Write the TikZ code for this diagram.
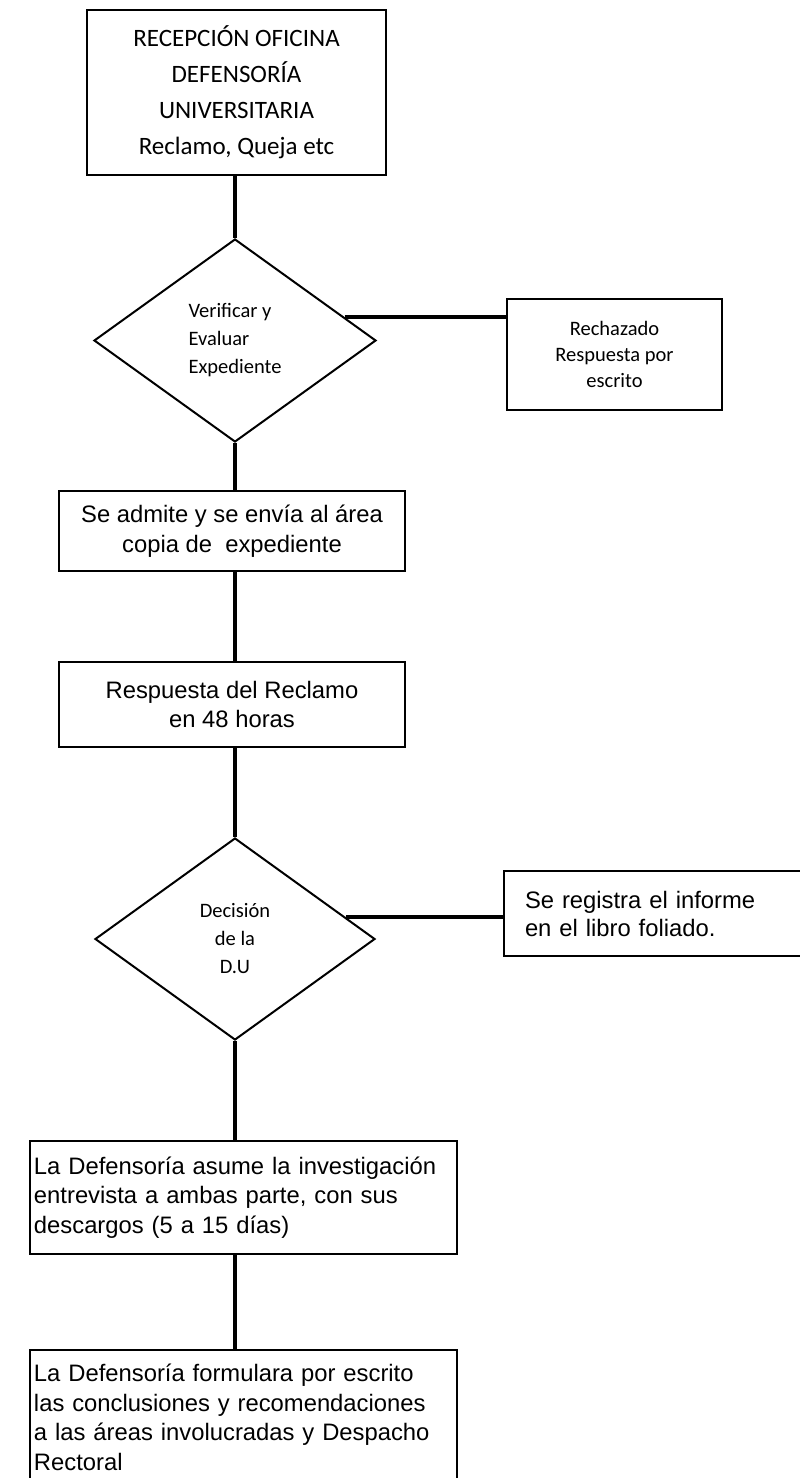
\documentclass[tikz,border=0pt]{standalone}
\usepackage{fontspec}
\setmainfont{Liberation Sans}
\newfontfamily\calibri{Carlito}
\usetikzlibrary{shapes.geometric}

\begin{document}
\begin{tikzpicture}[x=1pt, y=-1pt]
            \tikzstyle{caja} = [draw, line width=2.5pt, rectangle, inner sep=0pt, align=center]
            \tikzstyle{rombo} = [draw, line width=2pt, diamond, inner sep=0pt, font=\calibri\fontsize{20.5}{28}\selectfont]
            \tikzstyle{linea} = [line width=4pt]
            \tikzstyle{arial} = [font=\fontsize{23.8}{29.5}\selectfont]
            \useasboundingbox (0, 0) rectangle (800, 1478);
            \node[caja, minimum width=299pt, minimum height=165pt, font=\calibri\fontsize{25}{36}\selectfont] (recepcion) at (236.5, 92.5) {RECEPCIÓN OFICINA\\DEFENSORÍA\\UNIVERSITARIA\\Reclamo, Queja etc};
            \node[rombo, align=left, minimum width=282pt, minimum height=203pt] (verificar) at (235, 340.5) {Verificar y\\Evaluar\\Expediente};
            \node[caja, minimum width=215pt, minimum height=111pt, font=\calibri\fontsize{20.5}{26}\selectfont] (rechazado) at (614.5, 354.5) {Rechazado\\Respuesta por\\escrito};
            \node[caja, arial, minimum width=346pt, minimum height=80pt] (admite) at (232, 531) {Se admite y se envía al área\\copia de\ \ expediente};
            \node[caja, arial, minimum width=346pt, minimum height=85pt] (respuesta) at (232, 704.5) {Respuesta del Reclamo\\en 48 horas};
            \node[rombo, align=center, minimum width=280pt, minimum height=202pt] (decision) at (235, 939) {Decisión\\de la\\D.U};
            \node[caja, arial, align=left, text width=259pt, inner xsep=21pt, minimum height=85pt, font=\fontsize{23.8}{28}\selectfont] (registro) at (654.5, 913.5) {Se registra el informe\\en el libro foliado.};
            \node[caja, arial, align=left, text width=419pt, inner xsep=4pt, minimum height=113pt] (investiga) at (243.5, 1197.5) {La Defensoría asume la investigación\\entrevista a ambas parte, con sus\\descargos (5 a 15 días)};
            \node[caja, arial, align=left, text width=419pt, inner xsep=4pt, minimum height=135pt] (conclusion) at (243.5, 1417.5) {La Defensoría formulara por escrito\\las conclusiones y recomendaciones\\a las áreas involucradas y Despacho\\Rectoral};
            \draw[linea] (recepcion.south -| verificar.north) -- (verificar.north);
            \draw[linea] (verificar.12) -- (verificar.12 -| rechazado.west);
            \draw[linea] (verificar.south) -- (verificar.south |- admite.north);
            \draw[linea] (admite.south -| verificar.south) -- (respuesta.north -| verificar.south);
            \draw[linea] (respuesta.south -| decision.north) -- (decision.north);
            \draw[linea] (decision.11) -- (decision.11 -| registro.west);
            \draw[linea] (decision.south) -- (decision.south |- investiga.north);
            \draw[linea] (investiga.south -| decision.south) -- (conclusion.north -| decision.south);
        \end{tikzpicture}
\end{document}
